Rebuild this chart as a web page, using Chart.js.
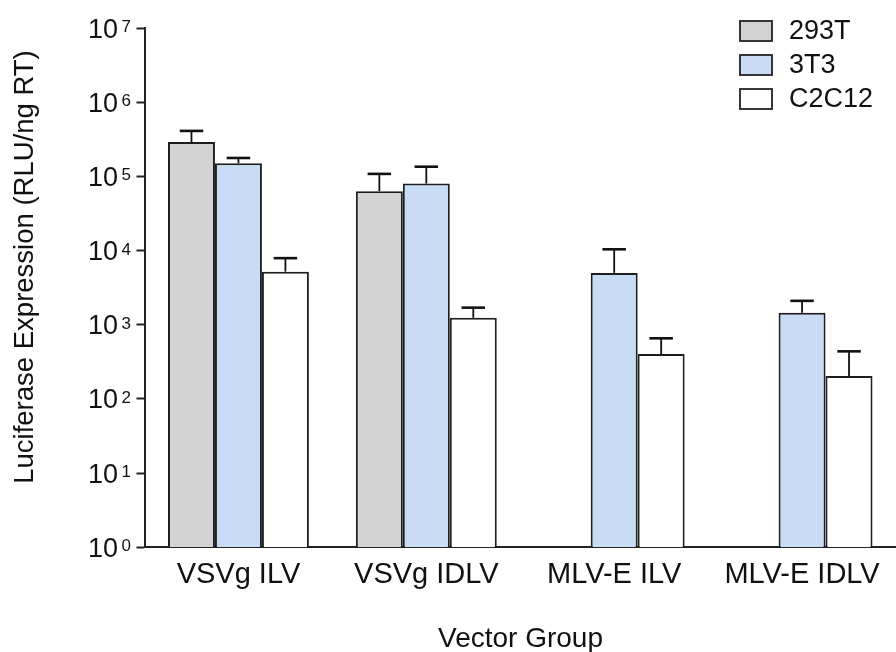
<!doctype html>
<html lang="en">
<head>
<meta charset="utf-8">
<title>Luciferase Expression by Vector Group</title>
<script src="https://cdn.jsdelivr.net/npm/chart.js@4.4.1/dist/chart.umd.min.js"></script>
<style>
 body{margin:0;background:#fff}
 #wrap{width:896px;height:652px}
</style>
</head>
<body>
<div id="wrap"><canvas id="chart" width="896" height="652"></canvas></div>

<script>
/* ===== data ===== */
const categories = ['VSVg ILV', 'VSVg IDLV', 'MLV-E ILV', 'MLV-E IDLV'];
const seriesNames = ['293T', '3T3', 'C2C12'];

const mean293T  = [2.9e5, 6.3e4, null, null];
const upper293T = [4.1e5, 1.08e5, null, null];

const mean3T3   = [1.5e5, 8.0e4, 5.0e3, 1.45e3];
const upper3T3  = [1.77e5, 1.35e5, 1.04e4, 2.1e3];

const meanC2C12  = [5.2e3, 1.24e3, 403, 204];
const upperC2C12 = [7.9e3, 1.7e3, 656, 438];

const yTicks = [1, 10, 100, 1e3, 1e4, 1e5, 1e6, 1e7];
const yTitle = 'Luciferase Expression (RLU/ng RT)';
const xTitle = 'Vector Group';

/* ===== styles ===== */
const FONT = '"Liberation Sans", Arial, sans-serif';
const INK = '#111';
const fills = ['#d3d3d3', '#c8dcf5', '#ffffff'];
const uppers = [upper293T, upper3T3, upperC2C12];

/* error bars (upper only), axis labels, legend */
const extras = {
  id: 'extras',
  afterDatasetsDraw(chart){
    const ctx = chart.ctx, y = chart.scales.y;
    ctx.save();
    ctx.strokeStyle = INK;
    chart.data.datasets.forEach((ds, di)=>{
      const meta = chart.getDatasetMeta(di);
      meta.data.forEach((bar, i)=>{
        const hi = uppers[di][i];
        if(hi == null || ds.data[i] == null) return;
        const yt = y.getPixelForValue(hi);
        const half = bar.width * 0.25;
        ctx.lineWidth = 1.8;
        ctx.beginPath(); ctx.moveTo(bar.x, bar.y); ctx.lineTo(bar.x, yt); ctx.stroke();
        ctx.lineWidth = 2.6;
        ctx.beginPath(); ctx.moveTo(bar.x - half, yt); ctx.lineTo(bar.x + half, yt); ctx.stroke();
      });
    });
    ctx.restore();
  },
  afterDraw(chart){
    const ctx = chart.ctx, y = chart.scales.y;
    ctx.save();
    ctx.fillStyle = INK;
    // y tick labels 10^n
    yTicks.forEach(v=>{
      const py = y.getPixelForValue(v);
      ctx.font = `27px ${FONT}`;
      ctx.textAlign = 'right'; ctx.textBaseline = 'alphabetic';
      ctx.fillText('10', 118, py + 9.5);
      ctx.font = `17px ${FONT}`;
      ctx.textAlign = 'left';
      ctx.fillText(String(Math.round(Math.log10(v))), 121.5, py + 4);
    });
    // axis titles
    ctx.font = `28px ${FONT}`;
    ctx.textAlign = 'center'; ctx.textBaseline = 'alphabetic';
    ctx.fillText(xTitle, 520.5, 646.5);
    ctx.font = `27.5px ${FONT}`;
    ctx.save();
    ctx.translate(33, 267);
    ctx.rotate(-Math.PI/2);
    ctx.fillText(yTitle, 0, 0);
    ctx.restore();
    // legend
    ctx.font = `27px ${FONT}`;
    chart.data.datasets.forEach((ds, di)=>{
      const top = 21 + di*34;
      ctx.fillStyle = ds.backgroundColor;
      ctx.fillRect(740, top, 32, 20);
      ctx.strokeStyle = '#222'; ctx.lineWidth = 1.8;
      ctx.strokeRect(740, top, 32, 20);
      ctx.fillStyle = INK;
      ctx.textAlign = 'left'; ctx.textBaseline = 'middle';
      ctx.fillText(ds.label, 789, top + 11);
    });
    ctx.restore();
  }
};

const means = [mean293T, mean3T3, meanC2C12];

new Chart(document.getElementById('chart'), {
  type: 'bar',
  data: {
    labels: categories,
    datasets: seriesNames.map((name, i)=>({
      label: name,
      data: means[i],
      backgroundColor: fills[i],
      borderColor: '#1e1e1e',
      borderWidth: 2,
      barPercentage: 1.0,
      categoryPercentage: 0.75
    }))
  },
  options: {
    responsive: false,
    animation: false,
    layout: {padding: {top: 28, right: -5, bottom: 0, left: 0}},
    plugins: {legend: {display: false}, tooltip: {enabled: false}},
    scales: {
      x: {
        grid: {display: true, drawOnChartArea: false, drawTicks: false},
        border: {display: true, color: '#222', width: 2},
        ticks: {color: INK, font: {family: FONT, size: 29}, padding: 10, maxRotation: 0, autoSkip: false},
        afterFit: s => { s.height = 104.7; }
      },
      y: {
        type: 'logarithmic',
        min: 1, max: 1e7,
        afterBuildTicks: s => { s.ticks = yTicks.map(v=>({value: v})); },
        grid: {display: true, drawOnChartArea: false, drawTicks: true, tickLength: 8, tickWidth: 2, tickColor: '#222'},
        border: {display: true, color: '#222', width: 2},
        ticks: {display: false},
        afterFit: s => { s.width = 144.5; }
      }
    }
  },
  plugins: [extras]
});
</script>
</body>
</html>
